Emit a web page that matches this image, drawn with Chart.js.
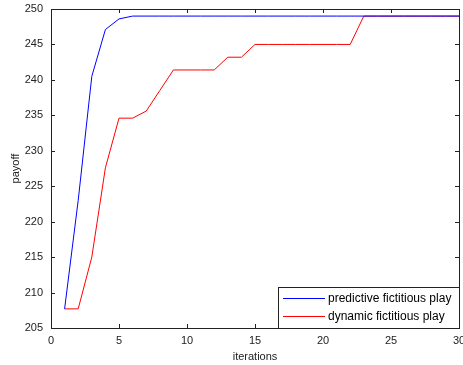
<!DOCTYPE html>
<html>
<head>
<meta charset="utf-8">
<script src="https://cdn.jsdelivr.net/npm/chart.js@4.4.1/dist/chart.umd.min.js"></script>
<style>
  html, body { margin: 0; padding: 0; background: #fff; }
  #wrap { width: 463px; height: 365px; position: relative; }
</style>
</head>
<body>
<div id="wrap"><canvas id="c"></canvas></div>
<script>
// Donnees : payoff par iteration pour les deux variantes.
const iterations = Array.from({ length: 30 }, (_, i) => i + 1);
const predictive = [207.7, 223, 240.5, 247.1, 248.6, 249, 249, 249, 249, 249,
  249, 249, 249, 249, 249, 249, 249, 249, 249, 249,
  249, 249, 249, 249, 249, 249, 249, 249, 249, 249];
const dynamic = [207.7, 207.7, 215, 227.6, 234.6, 234.6, 235.6, 238.5, 241.4, 241.4,
  241.4, 241.4, 243.2, 243.2, 245, 245, 245, 245, 245, 245,
  245, 245, 249, 249, 249, 249, 249, 249, 249, 249];
const seriesLabels = ["predictive fictitious play", "dynamic fictitious play"];
const xTicks = [0, 5, 10, 15, 20, 25, 30];
const yTicks = [205, 210, 215, 220, 225, 230, 235, 240, 245, 250];

const FONT = "'Liberation Sans', Arial, sans-serif";

// cadre noir + graduations vers l'interieur (style matlab)
const framePlugin = {
  id: "frame",
  afterDatasetsDraw(chart) {
    const { ctx, chartArea: a, scales: { x, y } } = chart;
    ctx.save();
    ctx.strokeStyle = "#222";
    ctx.lineWidth = 1;
    ctx.strokeRect(Math.round(a.left) + 0.5, Math.round(a.top) + 0.5,
      Math.round(a.right - a.left), Math.round(a.bottom - a.top));
    ctx.beginPath();
    xTicks.forEach(v => {
      const px = Math.round(x.getPixelForValue(v)) + 0.5;
      ctx.moveTo(px, a.bottom); ctx.lineTo(px, a.bottom - 4);
      ctx.moveTo(px, a.top); ctx.lineTo(px, a.top + 4);
    });
    yTicks.forEach(v => {
      const py = Math.round(y.getPixelForValue(v)) + 0.5;
      ctx.moveTo(a.left, py); ctx.lineTo(a.left + 4, py);
      ctx.moveTo(a.right, py); ctx.lineTo(a.right - 4, py);
    });
    ctx.stroke();
    ctx.restore();
  },
  afterDraw(chart) {
    // legende dans le coin bas-droit
    const { ctx, chartArea: a } = chart;
    const left = 278.5, top = 287.5, right = Math.round(a.right) + 0.5, bottom = Math.round(a.bottom) + 0.5;
    ctx.save();
    ctx.fillStyle = "#fff";
    ctx.fillRect(left, top, right - left, bottom - top);
    ctx.strokeStyle = "#222";
    ctx.lineWidth = 1;
    ctx.strokeRect(left, top, right - left, bottom - top);
    ctx.font = "12px " + FONT;
    ctx.textBaseline = "middle";
    chart.data.datasets.forEach((ds, i) => {
      const yy = 298.5 + i * 18;
      ctx.strokeStyle = ds.borderColor;
      ctx.beginPath(); ctx.moveTo(283, yy); ctx.lineTo(325, yy); ctx.stroke();
      ctx.fillStyle = "#000";
      ctx.fillText(ds.label, 328, yy);
    });
    ctx.restore();
  }
};

new Chart(document.getElementById("c"), {
  type: "line",
  data: {
    labels: iterations,
    datasets: [
      { label: seriesLabels[0], data: iterations.map((it, i) => ({ x: it, y: predictive[i] })), borderColor: "#0000ff", borderWidth: 1, pointRadius: 0, tension: 0 },
      { label: seriesLabels[1], data: iterations.map((it, i) => ({ x: it, y: dynamic[i] })), borderColor: "#ff0000", borderWidth: 1, pointRadius: 0, tension: 0 },
    ],
  },
  options: {
    responsive: true,
    maintainAspectRatio: false,
    animation: false,
    layout: { padding: { top: 9, right: 4, left: 0, bottom: 0 } },
    plugins: { legend: { display: false }, tooltip: { enabled: false } },
    scales: {
      x: {
        type: "linear", min: 0, max: 30,
        afterBuildTicks: s => { s.ticks = xTicks.map(v => ({ value: v })); },
        afterFit: s => { s.height = 37; s.paddingLeft = 0; s.paddingRight = 0; },
        grid: { display: false, drawTicks: false },
        border: { display: false },
        ticks: { color: "#222", font: { family: FONT, size: 11 }, padding: 6, maxRotation: 0 },
        title: { display: true, text: "iterations", color: "#222", font: { family: FONT, size: 11 }, padding: { top: 0, bottom: 1 } },
      },
      y: {
        min: 205, max: 250,
        afterBuildTicks: s => { s.ticks = yTicks.map(v => ({ value: v })); },
        afterFit: s => { s.width = 51; s.paddingTop = 0; s.paddingBottom = 0; },
        grid: { display: false, drawTicks: false },
        border: { display: false },
        ticks: { color: "#222", font: { family: FONT, size: 11 }, padding: 8 },
        title: { display: true, text: "payoff", color: "#222", font: { family: FONT, size: 11 }, padding: { top: 9, bottom: 0 } },
      },
    },
  },
  plugins: [framePlugin],
});
</script>
</body>
</html>
